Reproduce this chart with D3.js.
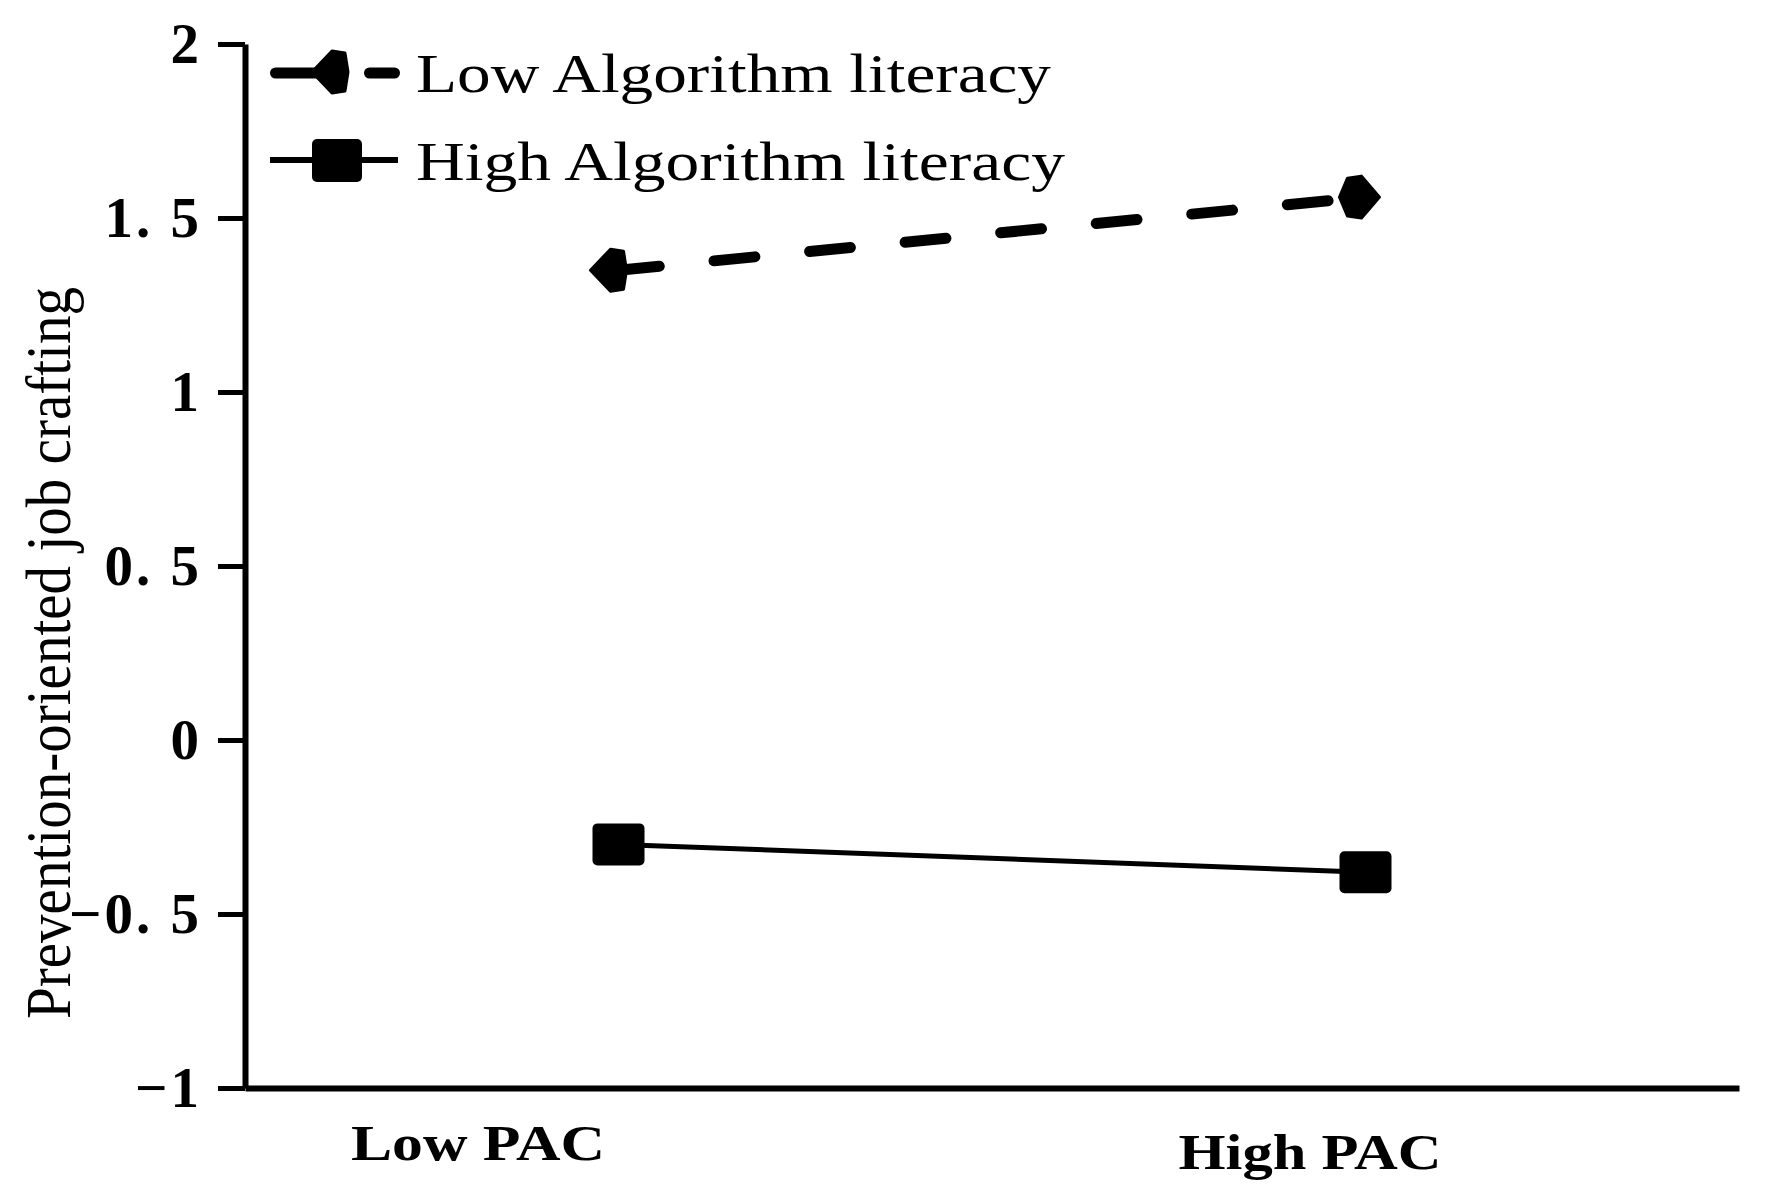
<!DOCTYPE html>
<html>
<head>
<meta charset="utf-8">
<script src="https://cdn.jsdelivr.net/npm/d3@7"></script>
<style>
  html, body { margin: 0; padding: 0; background: #fff; }
  svg { display: block; }
</style>
</head>
<body>
<script>
// ---- data ----
const categories = ["Low PAC", "High PAC"];
const seriesNames = ["Low Algorithm literacy", "High Algorithm literacy"];
const lowLiteracy = [1.35, 1.56];
const highLiteracy = [-0.30, -0.38];
const yTicks = [-1, -0.5, 0, 0.5, 1, 1.5, 2];
const yTickLabels = ["\u22121", "\u22120. 5", "0", "0. 5", "1", "1. 5", "2"];
const yTitle = "Prevention-oriented job crafting";

// ---- layout ----
const W = 1765, H = 1204;
const svg = d3.select("body").append("svg").attr("width", W).attr("height", H);

const x = d3.scalePoint().domain(categories).range([245, 1739]).padding(0.5);
const y = d3.scaleLinear().domain([-1, 2]).range([1088, 44]);

// y axis
const yAxis = d3.axisLeft(y)
  .tickValues(yTicks)
  .tickFormat((d, i) => yTickLabels[i])
  .tickSize(27).tickSizeOuter(0).tickPadding(19);
const gy = svg.append("g").attr("transform", "translate(245,0)").call(yAxis);
gy.select(".domain").attr("stroke", "#000").attr("stroke-width", 6);
gy.selectAll(".tick line").attr("stroke", "#000").attr("stroke-width", 5);
gy.selectAll(".tick text")
  .attr("fill", "#000")
  .style("font-family", "'Liberation Serif', 'Times New Roman', serif")
  .style("font-weight", "bold")
  .style("font-size", "57px")
  .style("letter-spacing", "3px")
  .attr("dx", "3");

// x axis
const xAxis = d3.axisBottom(x).tickSize(0).tickSizeOuter(0);
const gx = svg.append("g").attr("transform", "translate(0,1088)").call(xAxis);
gx.select(".domain").attr("stroke", "#000").attr("stroke-width", 6);
const xLabelShift = [-141, -56];
const xLabelBase = [72, 81];
const xLabelLen = [254, 263];
gx.selectAll(".tick text")
  .attr("fill", "#000")
  .attr("dy", 0)
  .attr("y", (d, i) => xLabelBase[i])
  .attr("x", (d, i) => xLabelShift[i])
  .attr("textLength", (d, i) => xLabelLen[i])
  .attr("lengthAdjust", "spacingAndGlyphs")
  .style("font-family", "'Liberation Serif', 'Times New Roman', serif")
  .style("font-weight", "bold")
  .style("font-size", "50px");

// y title
svg.append("text")
  .attr("transform", "translate(70,653) rotate(-90)")
  .attr("text-anchor", "middle")
  .attr("textLength", 732)
  .attr("lengthAdjust", "spacingAndGlyphs")
  .style("font-family", "'Liberation Serif', 'Times New Roman', serif")
  .style("font-size", "64px")
  .attr("fill", "#000")
  .text(yTitle);

// ---- series ----
const line = d3.line().x((d, i) => x(categories[i])).y(d => y(d));

// high literacy: solid thin line with squares
svg.append("path")
  .datum(highLiteracy)
  .attr("d", line)
  .attr("fill", "none")
  .attr("stroke", "#000")
  .attr("stroke-width", 5);
svg.selectAll("rect.hi")
  .data(highLiteracy)
  .join("rect")
  .attr("class", "hi")
  .attr("x", (d, i) => x(categories[i]) - 26)
  .attr("y", d => y(d) - 21)
  .attr("width", 52).attr("height", 42)
  .attr("rx", 5)
  .attr("fill", "#000");

// low literacy: thick dashed line with arrow-like markers
svg.append("path")
  .datum(lowLiteracy)
  .attr("d", line)
  .attr("fill", "none")
  .attr("stroke", "#000")
  .attr("stroke-width", 11)
  .attr("stroke-linecap", "round")
  .attr("stroke-dasharray", "41,55");

const arrowLeft = [[-24, 0], [-4, -21], [9, -19], [12, 0], [9, 19], [-4, 21]];
const arrowRight = [[18, 0], [0, -21], [-14, -19], [-22, 0], [-14, 19], [0, 21]];
const markerShapes = [arrowLeft, arrowRight];
svg.selectAll("path.lo")
  .data(lowLiteracy)
  .join("path")
  .attr("class", "lo")
  .attr("d", (d, i) => "M" + markerShapes[i].map(p => p.join(",")).join("L") + "Z")
  .attr("transform", (d, i) => `translate(${x(categories[i]) - 4},${y(d)})`)
  .attr("fill", "#000")
  .attr("stroke", "#000")
  .attr("stroke-width", 3)
  .attr("stroke-linejoin", "round");

// ---- legend ----
const lg = svg.append("g");
// row 1
lg.append("path")
  .attr("d", "M275.5,73H394.5")
  .attr("stroke", "#000").attr("stroke-width", 11)
  .attr("stroke-linecap", "round")
  .attr("stroke-dasharray", "60,34,30,200")
  .attr("fill", "none");
lg.append("path")
  .attr("d", "M" + arrowLeft.map(p => p.join(",")).join("L") + "Z")
  .attr("transform", "translate(336,72)")
  .attr("fill", "#000").attr("stroke", "#000").attr("stroke-width", 3)
  .attr("stroke-linejoin", "round");
// row 2
lg.append("path")
  .attr("d", "M270,160H398")
  .attr("stroke", "#000").attr("stroke-width", 6)
  .attr("fill", "none");
lg.append("rect")
  .attr("x", 312).attr("y", 139).attr("width", 50).attr("height", 43)
  .attr("rx", 5).attr("fill", "#000");

const legendBase = [92, 180];
const legendLen = [635, 649];
lg.selectAll("text")
  .data(seriesNames)
  .join("text")
  .attr("x", 416)
  .attr("y", (d, i) => legendBase[i])
  .attr("textLength", (d, i) => legendLen[i])
  .attr("lengthAdjust", "spacingAndGlyphs")
  .style("font-family", "'Liberation Serif', 'Times New Roman', serif")
  .style("font-size", "55px")
  .attr("fill", "#000")
  .text(d => d);
</script>
</body>
</html>
